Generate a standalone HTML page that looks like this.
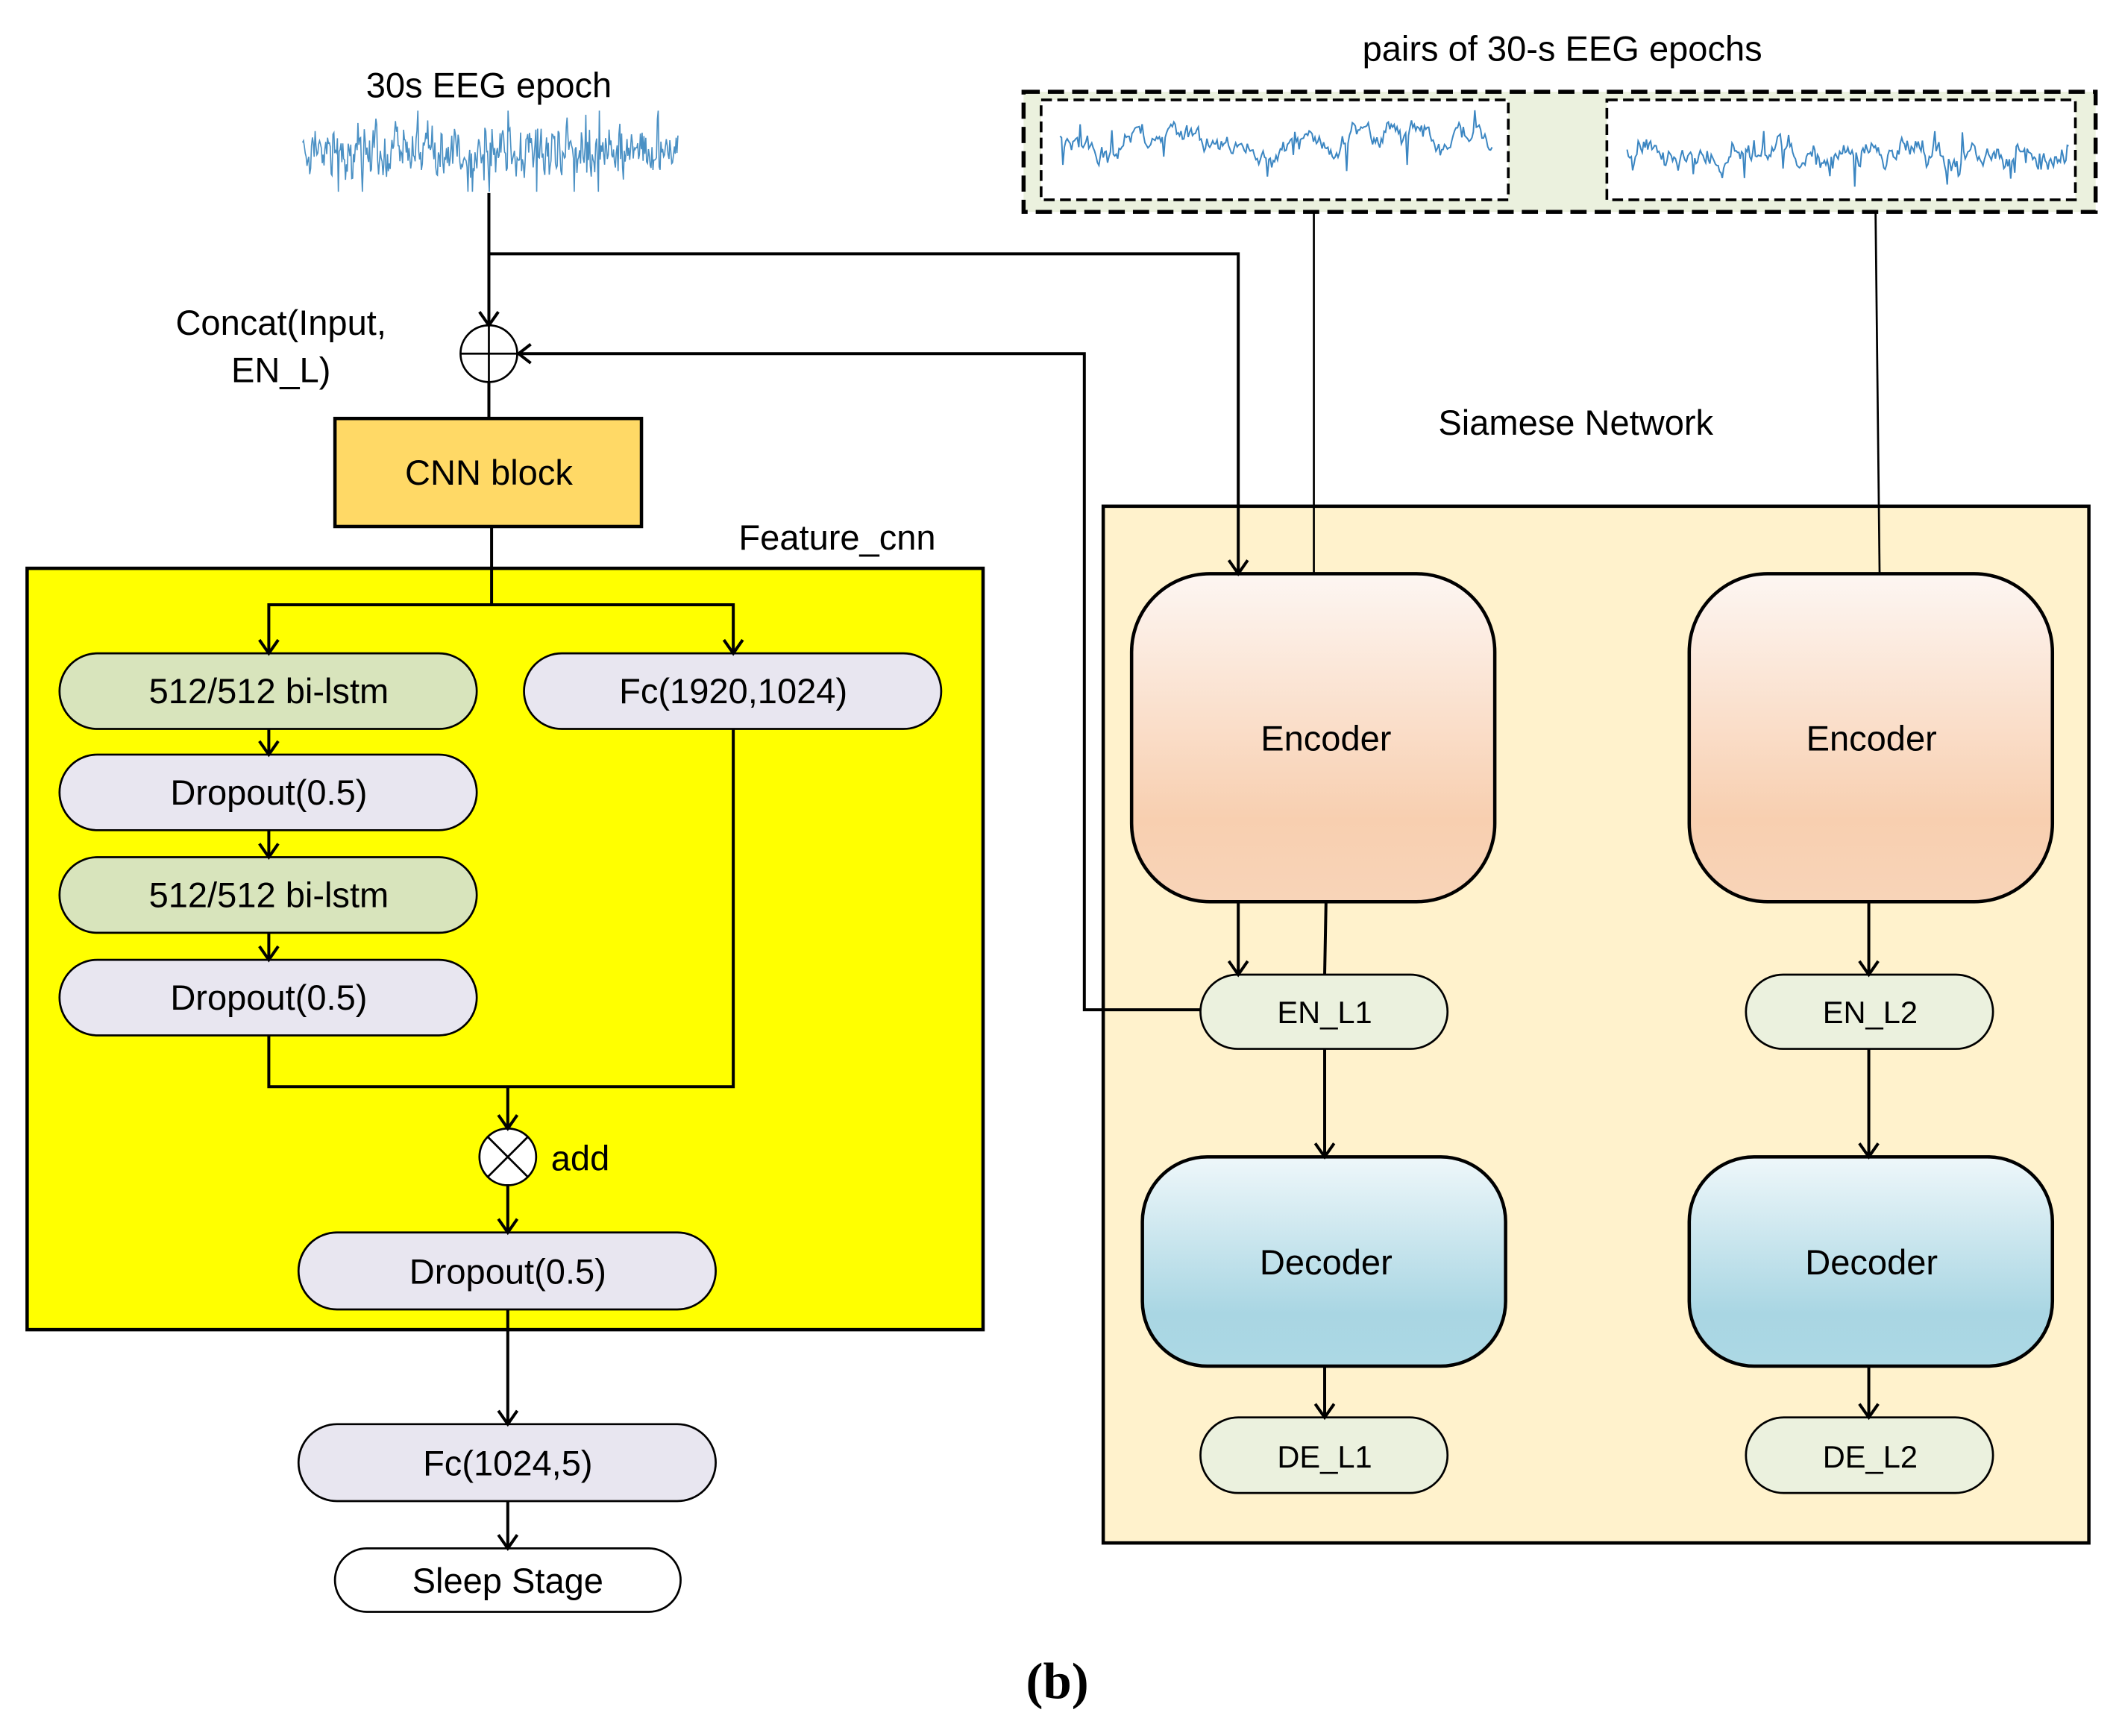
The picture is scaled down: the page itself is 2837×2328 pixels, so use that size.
<!DOCTYPE html>
<html><head><meta charset="utf-8"><style>
html,body{margin:0;padding:0;background:#fff;}
svg{display:block;}
text{font-family:"Liberation Sans",sans-serif;fill:#000;}
</style></head><body>
<svg id="s" width="2837" height="2328" viewBox="0 0 1567 1286" xmlns="http://www.w3.org/2000/svg">
<defs>
<linearGradient id="enc" x1="0" y1="0" x2="0" y2="1"><stop offset="0" stop-color="#fdf6f2"/><stop offset="0.75" stop-color="#f8cfb0"/><stop offset="1" stop-color="#f8d4b8"/></linearGradient>
<linearGradient id="dec" x1="0" y1="0" x2="0" y2="1"><stop offset="0" stop-color="#eef7fa"/><stop offset="0.75" stop-color="#a9d6e3"/><stop offset="1" stop-color="#acd8e4"/></linearGradient>
</defs>

<text x="362" y="72" font-size="26" text-anchor="middle">30s EEG epoch</text>
<polyline id="w0" fill="none" stroke="#4a90c4" stroke-width="0.9" points=""/>

<text x="1157" y="45" font-size="26" text-anchor="middle">pairs of 30-s EEG epochs</text>
<rect x="758" y="68" width="794" height="89" fill="#ebf1de" stroke="#000" stroke-width="3" stroke-dasharray="12,6"/>
<rect x="771" y="74" width="346" height="74" fill="#fff" stroke="#000" stroke-width="2" stroke-dasharray="8,4"/>
<rect x="1190" y="74" width="347" height="74" fill="#fff" stroke="#000" stroke-width="2" stroke-dasharray="8,4"/>
<polyline id="w1" fill="none" stroke="#3b86c2" stroke-width="1.1" points=""/>
<polyline id="w2" fill="none" stroke="#3b86c2" stroke-width="1.1" points=""/>

<text x="1167" y="322" font-size="26" text-anchor="middle">Siamese Network</text>
<rect x="817" y="375" width="730" height="768" fill="#fff2cc" stroke="#000" stroke-width="2.5"/>
<line x1="973" y1="157" x2="973" y2="425" stroke="#000" stroke-width="1.5"/>
<line x1="1389" y1="157" x2="1392" y2="425" stroke="#000" stroke-width="1.5"/>

<rect x="838" y="425" width="269" height="243" rx="58" fill="url(#enc)" stroke="#000" stroke-width="2.5"/>
<rect x="1251" y="425" width="269" height="243" rx="58" fill="url(#enc)" stroke="#000" stroke-width="2.5"/>
<text x="982" y="556" font-size="26" text-anchor="middle">Encoder</text>
<text x="1386" y="556" font-size="26" text-anchor="middle">Encoder</text>

<g stroke="#000" stroke-width="2.2" fill="none">
<line x1="917" y1="668" x2="917" y2="722"/>
<line x1="982" y1="668" x2="981" y2="722"/>
<line x1="1384" y1="668" x2="1384" y2="722"/>
<line x1="981" y1="777" x2="981" y2="857"/>
<line x1="1384" y1="777" x2="1384" y2="857"/>
<line x1="981" y1="1012" x2="981" y2="1050"/>
<line x1="1384" y1="1012" x2="1384" y2="1050"/>
</g>
<rect x="889" y="722" width="183" height="55" rx="27.5" fill="#ebf1de" stroke="#000" stroke-width="1.5"/>
<rect x="1293" y="722" width="183" height="55" rx="27.5" fill="#ebf1de" stroke="#000" stroke-width="1.5"/>
<text x="981" y="758" font-size="23" text-anchor="middle">EN_L1</text>
<text x="1385" y="758" font-size="23" text-anchor="middle">EN_L2</text>

<rect x="846" y="857" width="269" height="155" rx="48" fill="url(#dec)" stroke="#000" stroke-width="2.5"/>
<rect x="1251" y="857" width="269" height="155" rx="48" fill="url(#dec)" stroke="#000" stroke-width="2.5"/>
<text x="982" y="944" font-size="26" text-anchor="middle">Decoder</text>
<text x="1386" y="944" font-size="26" text-anchor="middle">Decoder</text>
<rect x="889" y="1050" width="183" height="56" rx="28" fill="#ebf1de" stroke="#000" stroke-width="1.5"/>
<rect x="1293" y="1050" width="183" height="56" rx="28" fill="#ebf1de" stroke="#000" stroke-width="1.5"/>
<text x="981" y="1087" font-size="23" text-anchor="middle">DE_L1</text>
<text x="1385" y="1087" font-size="23" text-anchor="middle">DE_L2</text>

<g stroke="#000" stroke-width="2.2" fill="none">
<line x1="362" y1="143" x2="362" y2="241"/>
<polyline points="362,188 917,188 917,425"/>
<polyline points="889,748 803,748 803,262 384,262"/>
<line x1="362" y1="283" x2="362" y2="310"/>
<line x1="364" y1="390" x2="364" y2="448"/>
</g>
<circle cx="362" cy="262" r="21" fill="#fff" stroke="#000" stroke-width="1.5"/>
<line x1="341" y1="262" x2="383" y2="262" stroke="#000" stroke-width="1.5"/>
<line x1="362" y1="241" x2="362" y2="283" stroke="#000" stroke-width="1.5"/>
<text x="208" y="248" font-size="26" text-anchor="middle">Concat(Input,</text>
<text x="208" y="283" font-size="26" text-anchor="middle">EN_L)</text>
<rect x="248" y="310" width="227" height="80" fill="#ffd966" stroke="#000" stroke-width="2.5"/>
<text x="362" y="359" font-size="26" text-anchor="middle">CNN block</text>
<text x="620" y="407" font-size="26" text-anchor="middle">Feature_cnn</text>

<rect x="20" y="421" width="708" height="564" fill="#ffff00" stroke="#000" stroke-width="2.5"/>
<g stroke="#000" stroke-width="2.2" fill="none">
<line x1="364" y1="421" x2="364" y2="448"/>
<polyline points="199,484 199,448 543,448 543,484"/>
<line x1="199" y1="540" x2="199" y2="559"/>
<line x1="199" y1="615" x2="199" y2="635"/>
<line x1="199" y1="691" x2="199" y2="711"/>
<polyline points="199,767 199,805 543,805 543,540"/>
<line x1="376" y1="805" x2="376" y2="836"/>
<line x1="376" y1="878" x2="376" y2="913"/>
<line x1="376" y1="970" x2="376" y2="1055"/>
<line x1="376" y1="1112" x2="376" y2="1147"/>
</g>

<rect x="44" y="484" width="309" height="56" rx="28" fill="#d8e4bc" stroke="#000" stroke-width="1.5"/>
<text x="199" y="521" font-size="26" text-anchor="middle">512/512 bi-lstm</text>
<rect x="388" y="484" width="309" height="56" rx="28" fill="#e8e6f0" stroke="#000" stroke-width="1.5"/>
<text x="543" y="521" font-size="26" text-anchor="middle">Fc(1920,1024)</text>
<rect x="44" y="559" width="309" height="56" rx="28" fill="#e8e6f0" stroke="#000" stroke-width="1.5"/>
<text x="199" y="596" font-size="26" text-anchor="middle">Dropout(0.5)</text>
<rect x="44" y="635" width="309" height="56" rx="28" fill="#d8e4bc" stroke="#000" stroke-width="1.5"/>
<text x="199" y="672" font-size="26" text-anchor="middle">512/512 bi-lstm</text>
<rect x="44" y="711" width="309" height="56" rx="28" fill="#e8e6f0" stroke="#000" stroke-width="1.5"/>
<text x="199" y="748" font-size="26" text-anchor="middle">Dropout(0.5)</text>
<circle cx="376" cy="857" r="21" fill="#fff" stroke="#000" stroke-width="1.5"/>
<line x1="361" y1="842" x2="391" y2="872" stroke="#000" stroke-width="1.5"/>
<line x1="391" y1="842" x2="361" y2="872" stroke="#000" stroke-width="1.5"/>
<text x="408" y="867" font-size="26">add</text>
<rect x="221" y="913" width="309" height="57" rx="28.5" fill="#e8e6f0" stroke="#000" stroke-width="1.5"/>
<text x="376" y="951" font-size="26" text-anchor="middle">Dropout(0.5)</text>
<rect x="221" y="1055" width="309" height="57" rx="28.5" fill="#e8e6f0" stroke="#000" stroke-width="1.5"/>
<text x="376" y="1093" font-size="26" text-anchor="middle">Fc(1024,5)</text>
<rect x="248" y="1147" width="256" height="47" rx="23.5" fill="#fff" stroke="#000" stroke-width="1.5"/>
<text x="376" y="1180" font-size="26" text-anchor="middle">Sleep Stage</text>

<g stroke="#000" stroke-width="2.2" fill="none" stroke-linejoin="miter">
<path d="M355,231 L362,241 L369,231"/>
<path d="M393,255 L384,262 L393,269"/>
<path d="M910,415 L917,425 L924,415"/>
<path d="M910,712 L917,722 L924,712"/>
<path d="M1377,712 L1384,722 L1391,712"/>
<path d="M974,847 L981,857 L988,847"/>
<path d="M1377,847 L1384,857 L1391,847"/>
<path d="M974,1040 L981,1050 L988,1040"/>
<path d="M1377,1040 L1384,1050 L1391,1040"/>
<path d="M192,474 L199,484 L206,474"/>
<path d="M536,474 L543,484 L550,474"/>
<path d="M192,549 L199,559 L206,549"/>
<path d="M192,625 L199,635 L206,625"/>
<path d="M192,701 L199,711 L206,701"/>
<path d="M369,826 L376,836 L383,826"/>
<path d="M369,903 L376,913 L383,903"/>
<path d="M369,1045 L376,1055 L383,1045"/>
<path d="M369,1137 L376,1147 L383,1137"/>
</g>

<text x="783" y="1258" font-size="38" font-weight="bold" text-anchor="middle" style="font-family:'Liberation Serif',serif">(b)</text>
</svg>
<script>
(function(){
var seed=7;function r(){seed=(seed*16807)%2147483647;return seed/2147483647;}
function gen(id,x0,x1,yc,amp,n,smooth,lo,hi,spk){var p=[],v=0;for(var i=0;i<=n;i++){var x=x0+(x1-x0)*i/n;v=v*smooth+(r()-0.5)*amp;var y=yc+v+(r()-0.5)*amp*0.6;if(r()<spk)y+=(r()-0.5)*amp*4;y=Math.max(lo,Math.min(hi,y));p.push(x.toFixed(1)+","+y.toFixed(1));}document.getElementById(id).setAttribute("points",p.join(" "));}
gen("w0",224,502,112,26,420,0.3,82,142,0.05);
gen("w1",785,1105,103,10,300,0.9,80,145,0.03);
gen("w2",1205,1532,115,12,320,0.85,78,145,0.04);
})();
</script>
</body></html>
